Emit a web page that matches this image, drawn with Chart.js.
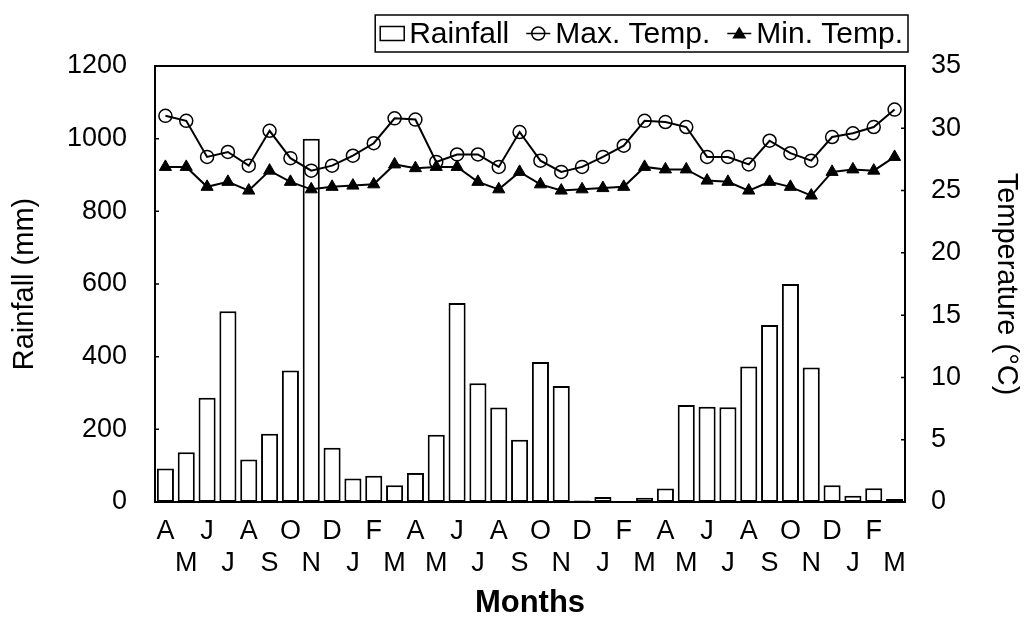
<!DOCTYPE html>
<html>
<head>
<meta charset="utf-8">
<script src="https://cdn.jsdelivr.net/npm/chart.js@4"></script>
<style>
  body { margin: 0; background: #fff; }
  canvas { display: block; }
</style>
</head>
<body>
<canvas id="climateChart" width="1030" height="622"></canvas>
<script>
// months from April to March, three years
const months = [
  "A", "M", "J", "J", "A", "S", "O", "N", "D", "J", "F", "M",
  "A", "M", "J", "J", "A", "S", "O", "N", "D", "J", "F", "M",
  "A", "M", "J", "J", "A", "S", "O", "N", "D", "J", "F", "M"
];

const rainfall = [
  92, 137, 287, 525, 117, 188, 362, 1000, 149, 65, 72, 46,
  80, 185, 548, 327, 260, 171, 385, 319, 4, 14, 1, 12,
  37, 267, 262, 261, 373, 487, 600, 370, 46, 17, 38, 8
];

const maxTemp = [
  31.0, 30.6, 27.7, 28.1, 27.0, 29.8, 27.6, 26.6, 27.0, 27.8, 28.8, 30.8,
  30.7, 27.3, 27.9, 27.9, 26.9, 29.7, 27.4, 26.5, 26.9, 27.7, 28.6, 30.6,
  30.5, 30.1, 27.7, 27.7, 27.1, 29.0, 28.0, 27.4, 29.3, 29.6, 30.1, 31.5
];

const minTemp = [
  26.9, 26.9, 25.3, 25.7, 25.0, 26.6, 25.7, 25.1, 25.3, 25.4, 25.5, 27.1,
  26.8, 26.9, 26.9, 25.7, 25.1, 26.5, 25.5, 25.0, 25.1, 25.2, 25.3, 26.9,
  26.7, 26.7, 25.8, 25.7, 25.0, 25.7, 25.3, 24.6, 26.5, 26.7, 26.6, 27.7
];

// two label rows: even months on top, odd months below
const tickLabels = months.map((m, i) => i % 2 === 0 ? [m, ""] : ["", m]);

const FONT = '"Liberation Sans", Arial, sans-serif';
Chart.defaults.font.family = FONT;
Chart.defaults.color = "#000";

// frame round the plot plus little inside ticks on both y axes
const plotFrame = {
  id: "plotFrame",
  afterDatasetsDraw(chart) {
    const { ctx, chartArea: a, scales } = chart;
    ctx.save();
    ctx.strokeStyle = "#000";
    ctx.lineWidth = 2;
    ctx.strokeRect(a.left, a.top, a.right - a.left, a.bottom - a.top);
    ctx.lineWidth = 1.5;
    ctx.beginPath();
    scales.y.ticks.forEach(t => {
      const y = scales.y.getPixelForValue(t.value);
      ctx.moveTo(a.left, y); ctx.lineTo(a.left + 4, y);
    });
    scales.y1.ticks.forEach(t => {
      const y = scales.y1.getPixelForValue(t.value);
      ctx.moveTo(a.right, y); ctx.lineTo(a.right - 4, y);
    });
    ctx.stroke();
    ctx.restore();
  }
};

// boxed legend in the top right corner
const legendBox = {
  id: "legendBox",
  afterDraw(chart) {
    const { ctx, chartArea: a } = chart;
    const sets = chart.data.datasets;
    ctx.save();
    ctx.font = "30px " + FONT;
    ctx.textBaseline = "middle";
    const symW = 26, gap = 3, itemGap = 17, pad = 5;
    let total = pad * 2;
    sets.forEach((d, i) => {
      total += symW + gap + ctx.measureText(d.label).width;
      if (i > 0) total += itemGap;
    });
    const right = a.right + 3, left = right - total;
    const top = 15, bottom = 52, cy = (top + bottom) / 2;
    ctx.strokeStyle = "#000";
    ctx.lineWidth = 1.5;
    ctx.strokeRect(left, top, total, bottom - top);
    let x = left + pad;
    sets.forEach((d, i) => {
      if (i > 0) x += itemGap;
      ctx.lineWidth = 1.5;
      if (d.type === "bar") {
        ctx.fillStyle = "#fff";
        ctx.fillRect(x, cy - 7, 24, 14);
        ctx.strokeRect(x, cy - 7, 24, 14);
      } else {
        ctx.beginPath();
        ctx.moveTo(x, cy); ctx.lineTo(x + symW - 2, cy);
        ctx.stroke();
        const px = x + (symW - 2) / 2;
        ctx.beginPath();
        if (d.pointStyle === "triangle") {
          ctx.moveTo(px, cy - 7); ctx.lineTo(px + 7, cy + 5); ctx.lineTo(px - 7, cy + 5);
          ctx.closePath();
          ctx.fillStyle = "#000";
          ctx.fill();
        } else {
          ctx.arc(px, cy, 6.5, 0, Math.PI * 2);
          ctx.stroke();
        }
      }
      x += symW + gap;
      ctx.fillStyle = "#000";
      ctx.fillText(d.label, x, cy + 1);
      x += ctx.measureText(d.label).width;
    });
    ctx.restore();
  }
};

new Chart(document.getElementById("climateChart"), {
  data: {
    labels: tickLabels,
    datasets: [
      {
        type: "bar",
        label: "Rainfall",
        data: rainfall,
        yAxisID: "y",
        backgroundColor: "#fff",
        borderColor: "#000",
        borderWidth: 2,
        borderSkipped: false,
        barPercentage: 0.82,
        categoryPercentage: 1,
        order: 3
      },
      {
        type: "line",
        label: "Max. Temp.",
        data: maxTemp,
        yAxisID: "y1",
        borderColor: "#000",
        borderWidth: 2,
        tension: 0,
        pointStyle: "circle",
        pointRadius: 6.5,
        pointBackgroundColor: "rgba(255,255,255,0)",
        pointBorderColor: "#000",
        pointBorderWidth: 1.5,
        order: 2
      },
      {
        type: "line",
        label: "Min. Temp.",
        data: minTemp,
        yAxisID: "y1",
        borderColor: "#000",
        borderWidth: 2,
        tension: 0,
        pointStyle: "triangle",
        pointRadius: 7,
        pointBackgroundColor: "#000",
        pointBorderColor: "#000",
        pointBorderWidth: 1,
        order: 1
      }
    ]
  },
  options: {
    responsive: false,
    animation: false,
    devicePixelRatio: 1,
    layout: { padding: { top: 66, left: 0, right: 0, bottom: 0 } },
    plugins: {
      legend: { display: false },
      tooltip: { enabled: false }
    },
    scales: {
      x: {
        offset: true,
        grid: { display: false },
        border: { display: false },
        ticks: {
          autoSkip: false,
          maxRotation: 0,
          padding: 5,
          font: { size: 27, lineHeight: 1.2 }
        },
        title: {
          display: true,
          text: "Months",
          font: { size: 31, weight: "bold" },
          padding: { top: 0, bottom: 0 }
        },
        afterFit: s => { s.height = 120; }
      },
      y: {
        position: "left",
        min: 0,
        max: 1200,
        grid: { display: false },
        border: { display: false },
        ticks: { stepSize: 200, padding: 20, font: { size: 27 }, callback: v => String(v) },
        title: {
          display: true,
          text: "Rainfall (mm)",
          font: { size: 29 },
          padding: { top: 8, bottom: 0 }
        },
        afterFit: s => { s.width = 155; }
      },
      y1: {
        position: "right",
        min: 0,
        max: 35,
        grid: { display: false },
        border: { display: false },
        ticks: { stepSize: 5, padding: 18, font: { size: 27 }, callback: v => String(v) },
        title: {
          display: true,
          text: "Temperature (°C)",
          font: { size: 29 },
          padding: { top: 7, bottom: 0 }
        },
        afterFit: s => { s.width = 125; }
      }
    }
  },
  plugins: [plotFrame, legendBox]
});
</script>
</body>
</html>
